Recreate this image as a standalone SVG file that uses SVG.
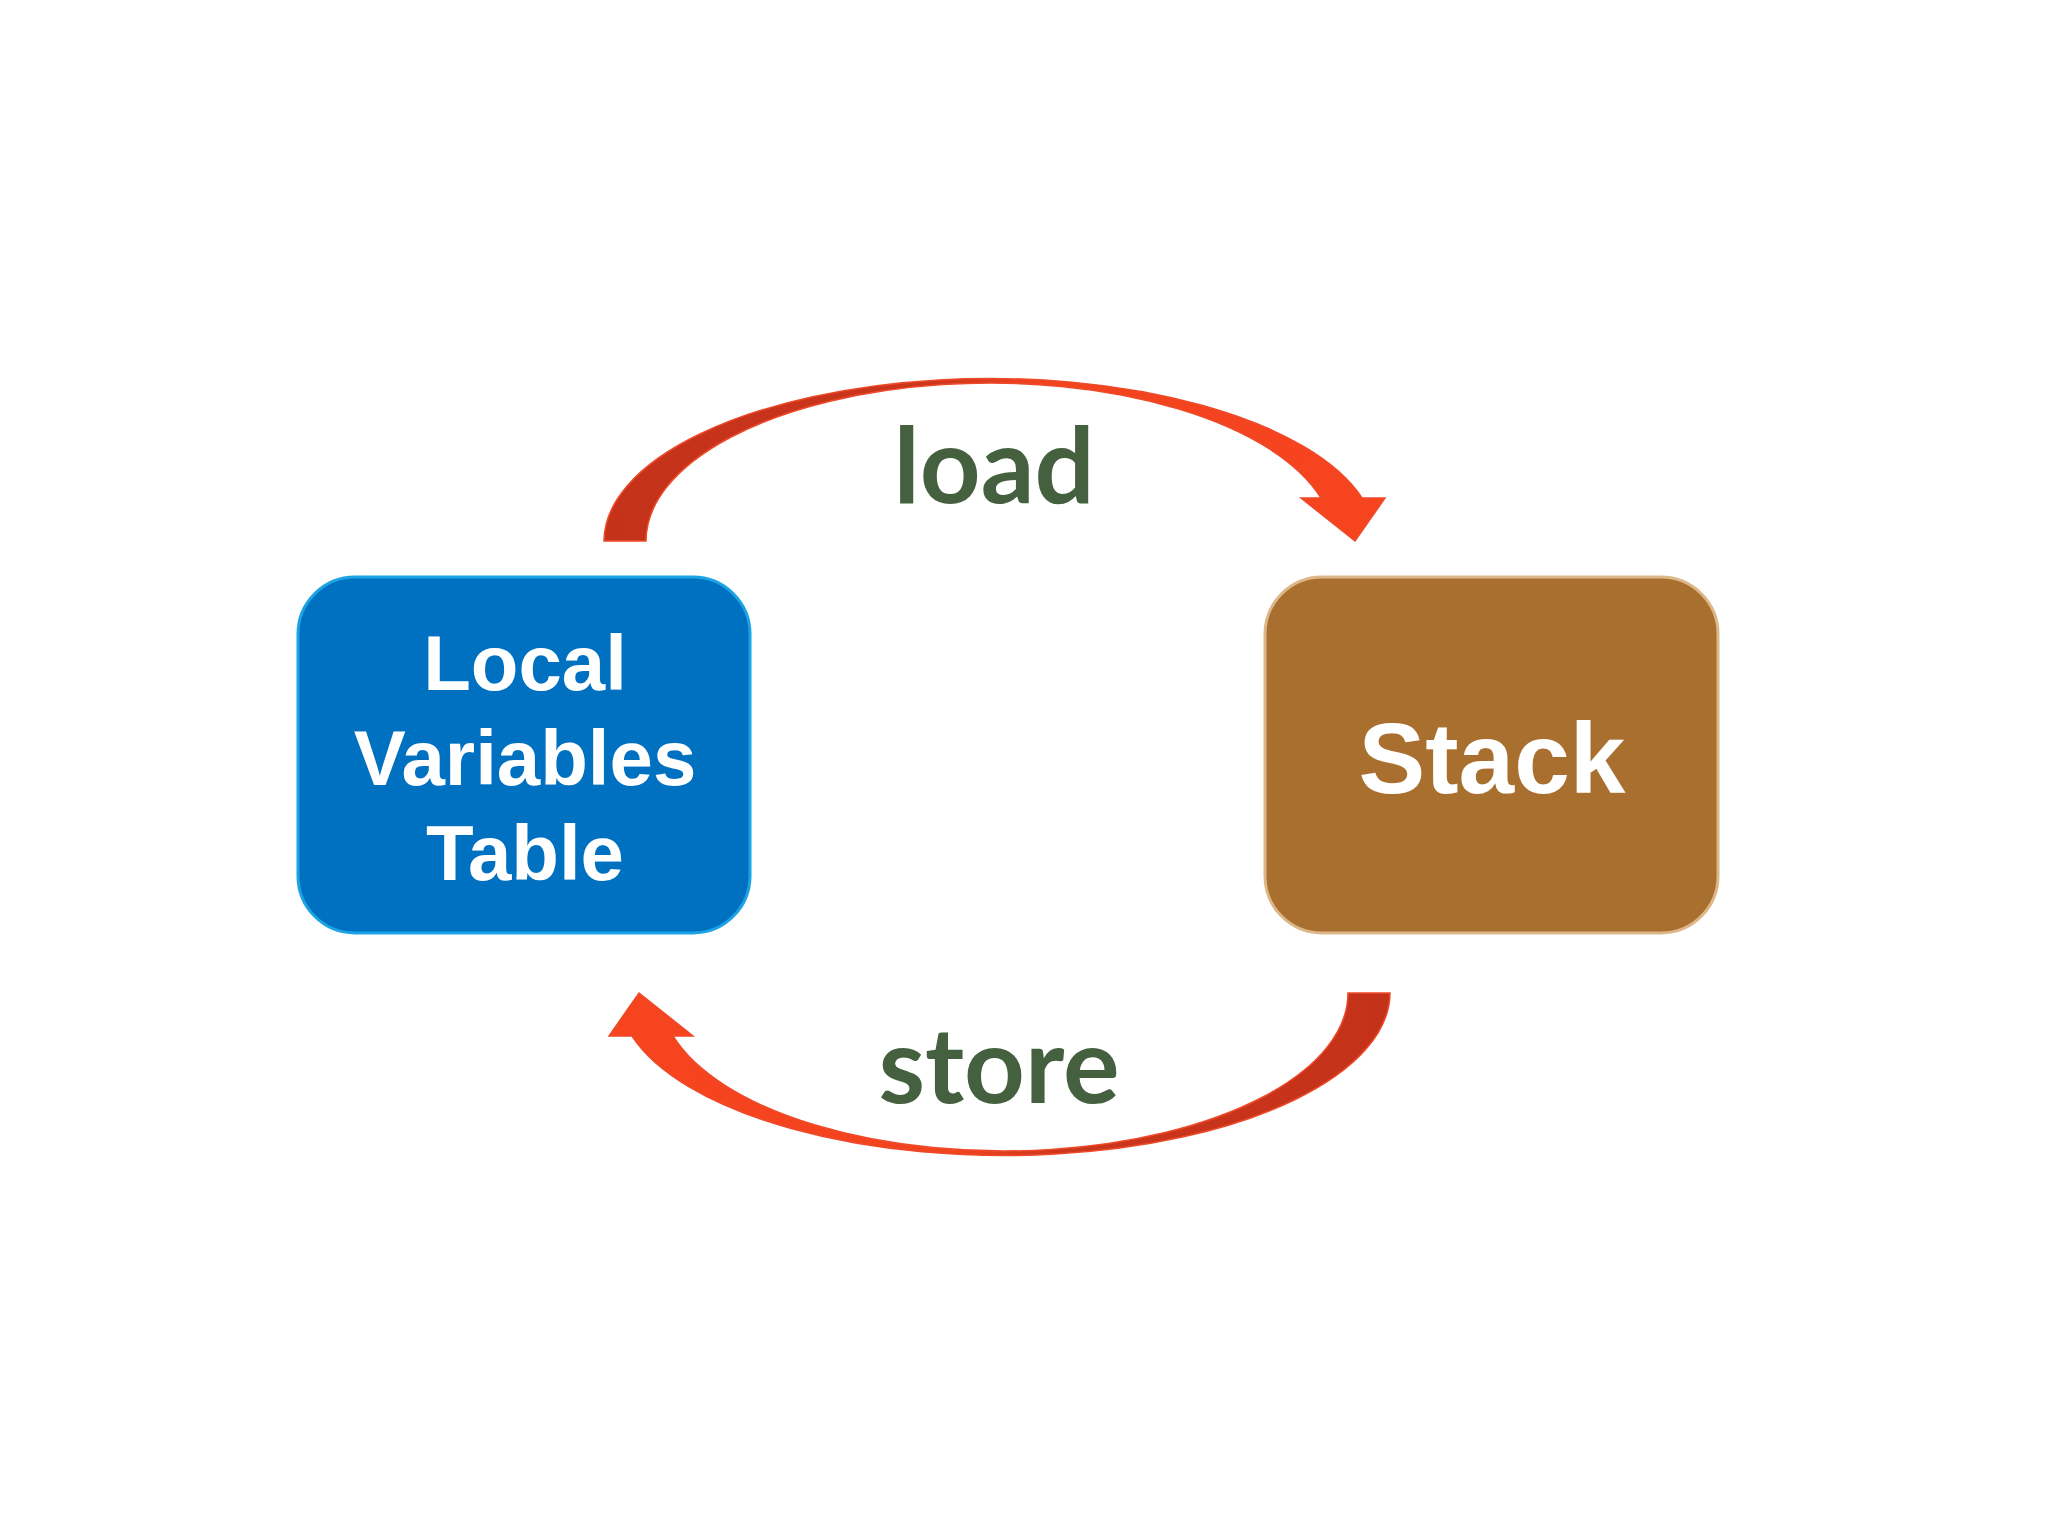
<svg xmlns="http://www.w3.org/2000/svg" width="2048" height="1536" viewBox="0 0 2048 1536">
  <defs>
    <linearGradient id="arrowGrad" gradientUnits="userSpaceOnUse" x1="604" y1="0" x2="1385" y2="0">
      <stop offset="0" stop-color="#C4321A"/>
      <stop offset="0.42" stop-color="#CB361C"/>
      <stop offset="0.56" stop-color="#F2431F"/>
      <stop offset="1" stop-color="#F6441E"/>
    </linearGradient>
    <path id="curvedArrow" d="M 604 541 A 386 163 0 0 1 1362 498 L 1385 498 L 1355 541 L 1301 498 L 1321 498 A 344 158 0 0 0 646 541 Z"/>
  </defs>
  <style>
    .box-blue { fill: #0070C0; stroke: #1BA3E3; stroke-width: 3; }
    .box-brown { fill: #A96F2E; stroke: #DDB789; stroke-width: 3; }
    .node-text { font-family: "Liberation Sans", Arial, sans-serif; font-weight: bold; fill: #FFFFFF; text-anchor: middle; }
    .edge-label { font-family: Lato, "Open Sans", sans-serif; font-weight: bold; fill: #44603F; text-anchor: middle; }
    .arrow { fill: url(#arrowGrad); stroke: #EE4A2A; stroke-width: 1.5; stroke-linejoin: miter; }
  </style>
  <rect x="0" y="0" width="2048" height="1536" fill="#FFFFFF"/>

  <g id="connectors">
    <g id="edge-load">
      <use href="#curvedArrow" class="arrow"/>
      <text class="edge-label" x="994" y="503" font-size="106">load</text>
    </g>
    <g id="edge-store">
      <use href="#curvedArrow" class="arrow" transform="rotate(180 997 767)"/>
      <text class="edge-label" x="999" y="1103" font-size="106">store</text>
    </g>
  </g>

  <g id="node-local-variables-table">
    <rect class="box-blue" x="298" y="577" width="452" height="356" rx="57" ry="57"/>
    <text class="node-text" x="525" y="690" font-size="78">Local</text>
    <text class="node-text" x="525" y="785" font-size="78">Variables</text>
    <text class="node-text" x="525" y="880" font-size="78">Table</text>
  </g>

  <g id="node-stack">
    <rect class="box-brown" x="1265" y="577" width="453" height="356" rx="57" ry="57"/>
    <text class="node-text" x="1492" y="793" font-size="100">Stack</text>
  </g>
</svg>
